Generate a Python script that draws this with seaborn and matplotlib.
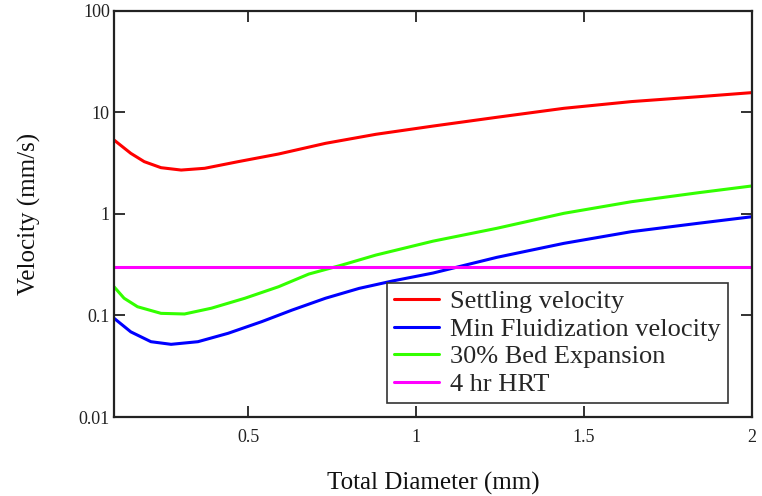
import matplotlib
matplotlib.use("Agg")
import matplotlib.pyplot as plt
import seaborn as sns
import pandas as pd
from matplotlib.ticker import FixedLocator, FixedFormatter, NullLocator

# ---- data ----
settling_x = [0.10, 0.15, 0.19, 0.24, 0.30, 0.37, 0.47, 0.59, 0.73, 0.88, 1.05, 1.24, 1.44, 1.64, 1.84, 2.0]
settling_y = [5.36, 3.96, 3.28, 2.86, 2.71, 2.82, 3.28, 3.90, 4.97, 6.10, 7.35, 8.97, 11.0, 12.8, 14.3, 15.7]

bed_x = [0.10, 0.13, 0.17, 0.24, 0.31, 0.39, 0.49, 0.59, 0.68, 0.78, 0.88, 1.05, 1.24, 1.44, 1.64, 1.84, 2.0]
bed_y = [0.192, 0.148, 0.122, 0.105, 0.1035, 0.118, 0.148, 0.192, 0.256, 0.315, 0.394, 0.54, 0.723, 1.016, 1.32, 1.62, 1.89]

fluid_x = [0.10, 0.15, 0.21, 0.27, 0.35, 0.44, 0.54, 0.63, 0.73, 0.83, 0.93, 1.05, 1.24, 1.44, 1.64, 1.84, 2.0]
fluid_y = [0.094, 0.069, 0.0552, 0.052, 0.0552, 0.0668, 0.087, 0.113, 0.148, 0.185, 0.219, 0.262, 0.374, 0.514, 0.669, 0.81, 0.94]

hrt_x = [0.1, 2.0]
hrt_y = [0.3, 0.3]

series_names = ["Settling velocity", "Min Fluidization velocity", "30% Bed Expansion", "4 hr HRT"]
colors = ["#ff0000", "#0000ff", "#33ff00", "#ff00ff"]

x_ticks = [0.5, 1, 1.5, 2]
x_ticklabels = ["0.5", "1", "1.5", "2"]
y_ticks = [0.01, 0.1, 1, 10, 100]
y_ticklabels = ["0.01", "0.1", "1", "10", "100"]

frames = [
    pd.DataFrame({"x": settling_x, "y": settling_y, "series": series_names[0]}),
    pd.DataFrame({"x": fluid_x, "y": fluid_y, "series": series_names[1]}),
    pd.DataFrame({"x": bed_x, "y": bed_y, "series": series_names[2]}),
    pd.DataFrame({"x": hrt_x, "y": hrt_y, "series": series_names[3]}),
]
df = pd.concat(frames, ignore_index=True)

sns.set_style("ticks")
plt.rcParams["font.family"] = ["Liberation Serif", "DejaVu Serif"]

fig = plt.figure(figsize=(7.62, 4.96), dpi=100)
ax = fig.add_axes([114 / 762, 1 - 417 / 496, (752 - 114) / 762, (417 - 11) / 496])

sns.lineplot(data=df, x="x", y="y", hue="series", hue_order=series_names,
             palette=colors, linewidth=2.2, ax=ax, legend=True, sort=False)

ax.set_yscale("log")
ax.set_xlim(0.1, 2.0)
ax.set_ylim(0.01, 100)

ax.xaxis.set_major_locator(FixedLocator(x_ticks))
ax.xaxis.set_major_formatter(FixedFormatter(x_ticklabels))
ax.yaxis.set_major_locator(FixedLocator(y_ticks))
ax.yaxis.set_major_formatter(FixedFormatter(y_ticklabels))
ax.xaxis.set_minor_locator(NullLocator())
ax.yaxis.set_minor_locator(NullLocator())

ax.tick_params(axis="both", which="major", direction="in", length=8, width=1.3,
               top=True, right=True, labelsize=13, colors="#222222")
ax.tick_params(axis="y", pad=3)
ax.tick_params(axis="x", pad=9)
for sp in ax.spines.values():
    sp.set_linewidth(1.6)
    sp.set_color("#222222")
    sp.set_visible(True)

ax.set_xlabel("Total Diameter (mm)", fontsize=18, labelpad=18, color="#111111")
ax.set_ylabel("Velocity (mm/s)", fontsize=18, labelpad=27, color="#111111")

leg = ax.legend(loc="upper left", bbox_to_anchor=(0.428, 0.330), borderaxespad=0,
                fontsize=19, frameon=True, fancybox=False, framealpha=1,
                edgecolor="#333333", handlelength=1.7, handletextpad=0.45,
                labelspacing=0.16, borderpad=0.25, title=None)
leg.get_frame().set_linewidth(1.2)
for line in leg.get_lines():
    line.set_linewidth(2.2)

fig.savefig("out.png", dpi=100)
